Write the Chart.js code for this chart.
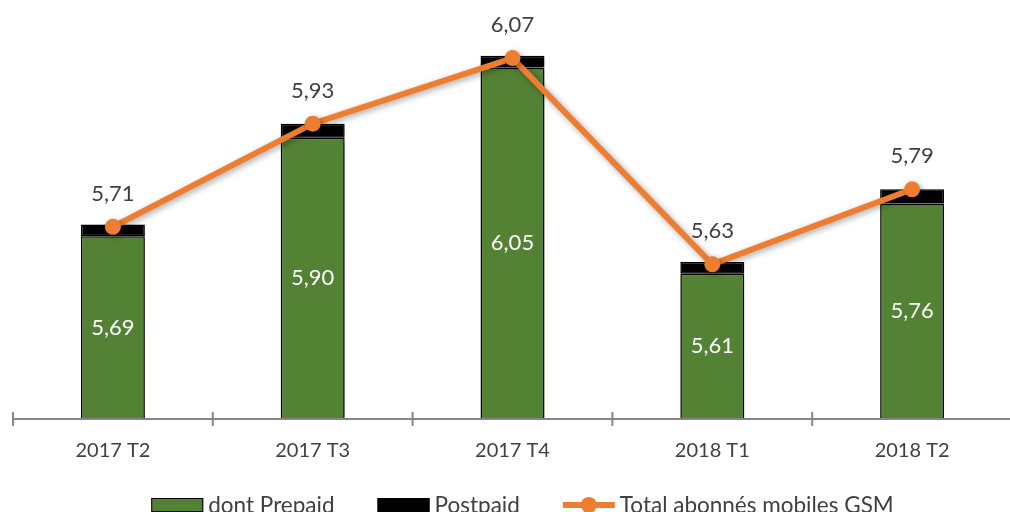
<!DOCTYPE html>
<html>
<head>
<meta charset="utf-8">
<script src="https://cdn.jsdelivr.net/npm/chart.js@4/dist/chart.umd.min.js"></script>
<style>
  html, body { margin: 0; padding: 0; background: #fff; overflow: hidden; }
  #wrap { width: 1020px; height: 512px; }
</style>
</head>
<body>
<div id="wrap"><canvas id="chart" width="1020" height="512"></canvas></div>
<script>
// Abonnés mobiles GSM (millions)
const categories = ['2017 T2', '2017 T3', '2017 T4', '2018 T1', '2018 T2'];
const prepaid = [5.69, 5.90, 6.05, 5.61, 5.76];
const postpaid = [0.025, 0.03, 0.025, 0.025, 0.03];
const total = [5.71, 5.93, 6.07, 5.63, 5.79];

const GREEN = '#548235';
const ORANGE = '#ED7D31';
const TEXT = '#404040';
const FONT = 'Lato, "Open Sans", sans-serif';

const fmt = v => v.toFixed(2).replace('.', ',');

// shadow under bars and line
const shadowPlugin = {
    id: 'shadow',
    beforeDatasetDraw(chart) {
        const ctx = chart.ctx;
        ctx.save();
        ctx.shadowColor = 'rgba(0,0,0,0.35)';
        ctx.shadowBlur = 6;
        ctx.shadowOffsetX = 2;
        ctx.shadowOffsetY = 2;
    },
    afterDatasetDraw(chart) {
        chart.ctx.restore();
    }
};

// x axis line with ticks crossing it
const axisPlugin = {
    id: 'axisLine',
    afterDatasetsDraw(chart) {
        const ctx = chart.ctx;
        const area = chart.chartArea;
        const n = categories.length;
        const step = (area.right - area.left) / n;
        ctx.save();
        ctx.strokeStyle = '#868686';
        ctx.lineWidth = 2;
        ctx.beginPath();
        ctx.moveTo(area.left, area.bottom);
        ctx.lineTo(area.right, area.bottom);
        for (let i = 0; i <= n; i++) {
            const x = area.left + step * i;
            ctx.moveTo(x, area.bottom - 7);
            ctx.lineTo(x, area.bottom + 7);
        }
        ctx.stroke();
        ctx.restore();
    }
};

// value labels
const labelsPlugin = {
    id: 'valueLabels',
    afterDraw(chart) {
        const ctx = chart.ctx;
        const area = chart.chartArea;
        ctx.save();
        ctx.font = '22px ' + FONT;
        ctx.textAlign = 'center';
        ctx.textBaseline = 'middle';
        const barMeta = chart.getDatasetMeta(1);
        barMeta.data.forEach((el, i) => {
            ctx.fillStyle = '#ffffff';
            ctx.fillText(fmt(prepaid[i]), el.x, (el.y + area.bottom) / 2);
        });
        const lineMeta = chart.getDatasetMeta(0);
        lineMeta.data.forEach((el, i) => {
            ctx.fillStyle = TEXT;
            ctx.fillText(fmt(total[i]), el.x, el.y - 33);
        });
        ctx.restore();
    }
};

// legend at the bottom (partly cut off, as in the source)
const legendPlugin = {
    id: 'bottomLegend',
    afterDraw(chart) {
        const ctx = chart.ctx;
        const area = chart.chartArea;
        const y = 505;
        const items = [
            { text: 'dont Prepaid', type: 'box', color: GREEN },
            { text: 'Postpaid', type: 'box', color: '#000000' },
            { text: 'Total abonnés mobiles GSM', type: 'line', color: ORANGE }
        ];
        ctx.save();
        ctx.font = '22.5px ' + FONT;
        ctx.textBaseline = 'alphabetic';
        ctx.textAlign = 'left';
        const markW = 52, gap = 5, sep = 43;
        let totalW = 0;
        items.forEach((it, i) => {
            it.w = ctx.measureText(it.text).width;
            totalW += markW + gap + it.w + (i < items.length - 1 ? sep : 0);
        });
        let x = (area.left + area.right) / 2 + 10 - totalW / 2;
        items.forEach((it) => {
            if (it.type === 'box') {
                ctx.fillStyle = it.color;
                ctx.fillRect(x, y - 7, markW, 14);
                ctx.strokeStyle = '#000';
                ctx.lineWidth = 1;
                ctx.strokeRect(x + 0.5, y - 6.5, markW - 1, 13);
            } else {
                ctx.strokeStyle = it.color;
                ctx.lineWidth = 6;
                ctx.beginPath();
                ctx.moveTo(x, y);
                ctx.lineTo(x + markW, y);
                ctx.stroke();
                ctx.fillStyle = it.color;
                ctx.beginPath();
                ctx.arc(x + markW / 2, y, 8, 0, Math.PI * 2);
                ctx.fill();
            }
            x += markW + gap;
            ctx.fillStyle = TEXT;
            ctx.fillText(it.text, x, 513);
            x += it.w + sep;
        });
        ctx.restore();
    }
};

new Chart(document.getElementById('chart'), {
    type: 'bar',
    data: {
        labels: categories,
        datasets: [{
            type: 'line',
            label: 'Total abonnés mobiles GSM',
            data: total,
            stack: 'total',
            order: 0,
            borderColor: ORANGE,
            backgroundColor: ORANGE,
            borderWidth: 6,
            pointRadius: 8,
            pointBorderWidth: 0,
            pointBackgroundColor: ORANGE,
            tension: 0
        }, {
            label: 'dont Prepaid',
            data: prepaid,
            stack: 'gsm',
            order: 1,
            backgroundColor: GREEN,
            borderColor: '#000000',
            borderWidth: 1.5,
            borderSkipped: false,
            categoryPercentage: 1,
            barPercentage: 0.32
        }, {
            label: 'Postpaid',
            data: postpaid,
            stack: 'gsm',
            order: 1,
            backgroundColor: '#000000',
            borderColor: '#000000',
            borderWidth: 1.5,
            borderSkipped: false,
            categoryPercentage: 1,
            barPercentage: 0.32
        }]
    },
    options: {
        responsive: false,
        animation: false,
        layout: { padding: { left: 13, right: 1.5, top: 44, bottom: 29 } },
        scales: {
            x: {
                stacked: true,
                grid: { display: false, drawTicks: false },
                border: { display: false },
                ticks: {
                    color: TEXT,
                    font: { size: 20, family: FONT },
                    padding: 20,
                    maxRotation: 0,
                    autoSkip: false
                }
            },
            y: {
                stacked: true,
                display: false,
                min: 5.3,
                max: 6.1
            }
        },
        plugins: {
            legend: { display: false },
            tooltip: { enabled: false }
        }
    },
    plugins: [shadowPlugin, axisPlugin, labelsPlugin, legendPlugin]
});
</script>
</body>
</html>
